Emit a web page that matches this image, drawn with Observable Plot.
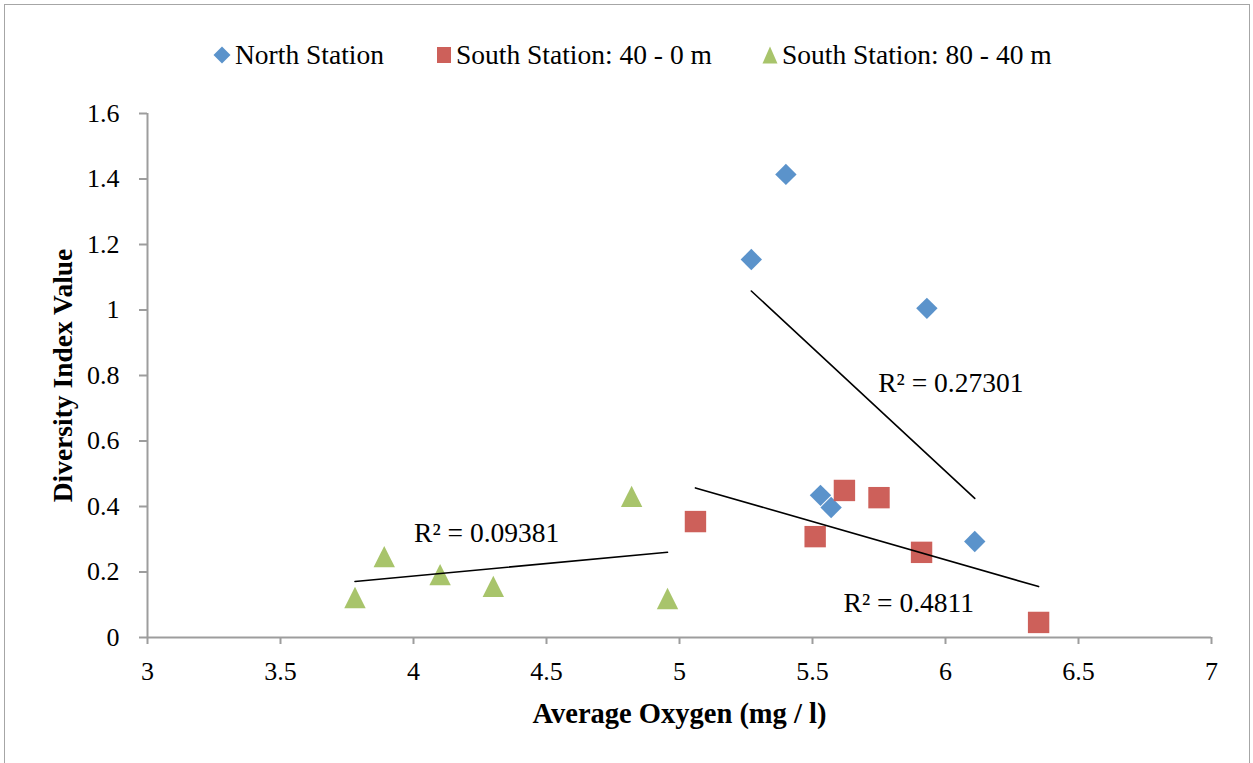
<!DOCTYPE html>
<html>
<head>
<meta charset="utf-8">
<script src="https://cdn.jsdelivr.net/npm/d3@7"></script>
<script src="https://cdn.jsdelivr.net/npm/@observablehq/plot@0.6"></script>
<style>
  html, body { margin: 0; padding: 0; background: #fff; }
  #wrap { position: relative; width: 1253px; height: 763px; overflow: hidden; font-family: "Liberation Serif", serif; }
  #frame { position: absolute; left: 4px; top: 4px; width: 1246px; height: 780px; border: 1.5px solid #a6a6a6; box-sizing: border-box; }
  #legend { position: absolute; left: 0; top: 0; width: 1253px; height: 88px; }
  .item { position: absolute; top: 41px; height: 27px; line-height: 27px; font-size: 27.5px; white-space: nowrap; display: flex; align-items: center; }
  .item svg { margin-right: 4px; }
  #chart { position: absolute; left: 0; top: 88px; }
</style>
</head>
<body>
<div id="wrap">
  <div id="frame"></div>
  <div id="legend"></div>
  <div id="chart"></div>
</div>
<script>
// ---- data ----
const seriesNames = ["North Station", "South Station: 40 - 0 m", "South Station: 80 - 40 m"];
const seriesColors = ["#5b93cb", "#cd605a", "#a8c46b"];

const northX = [5.27, 5.40, 5.93, 5.53, 5.57, 6.11];
const northY = [1.154, 1.414, 1.005, 0.434, 0.397, 0.293];

const south40X = [5.06, 5.51, 5.62, 5.75, 5.91, 6.35];
const south40Y = [0.354, 0.308, 0.449, 0.427, 0.260, 0.046];

const south80X = [3.78, 3.89, 4.10, 4.30, 4.82, 4.955];
const south80Y = [0.122, 0.247, 0.192, 0.156, 0.431, 0.119];

const xTicks = [3, 3.5, 4, 4.5, 5, 5.5, 6, 6.5, 7];
const yTicks = [0, 0.2, 0.4, 0.6, 0.8, 1, 1.2, 1.4, 1.6];

const r2Labels = ["R\u00B2 = 0.27301", "R\u00B2 = 0.09381", "R\u00B2 = 0.4811"];
const r2X = [6.02, 4.275, 5.862];
const r2Y = [0.776, 0.317, 0.104];

const xTitle = "Average Oxygen (mg / l)";
const yTitle = "Diversity Index Value";

// ---- symbols ----
const diamond = { draw(ctx, size) { const h = Math.sqrt(size / Math.PI); ctx.moveTo(0, -h); ctx.lineTo(h, 0); ctx.lineTo(0, h); ctx.lineTo(-h, 0); ctx.closePath(); } };
const square = { draw(ctx, size) { const h = Math.sqrt(size / Math.PI); ctx.rect(-h, -h, 2 * h, 2 * h); } };
const triangle = { draw(ctx, size) { const h = Math.sqrt(size / Math.PI); ctx.moveTo(0, -h); ctx.lineTo(h, h); ctx.lineTo(-h, h); ctx.closePath(); } };
const symbols = [diamond, square, triangle];

const toRows = (xs, ys) => xs.map((x, i) => ({ x, y: ys[i] }));
const series = [toRows(northX, northY), toRows(south40X, south40Y), toRows(south80X, south80Y)];
const labels = r2Labels.map((t, i) => ({ t, x: r2X[i], y: r2Y[i] }));

const axisColor = "#9d9d9d";
const R = 10.7;

const marks = [
  Plot.ruleY([0], { stroke: axisColor, strokeWidth: 2 }),
  Plot.ruleX([3], { stroke: axisColor, strokeWidth: 2 }),
  Plot.axisX({ ticks: xTicks, tickSize: 7, tickPadding: 17, stroke: axisColor, strokeWidth: 2, fill: "black", tickFormat: d => String(d), label: null, fontSize: 26 }),
  Plot.axisY({ ticks: yTicks, tickSize: 8, tickPadding: 20, stroke: axisColor, strokeWidth: 2, fill: "black", tickFormat: d => String(d), label: null, fontSize: 26 }),
  Plot.text([xTitle], { frameAnchor: "bottom", dy: 76, lineAnchor: "middle", textAnchor: "middle", fontWeight: "bold", fontSize: 28.5, fill: "black" }),
  Plot.text([yTitle], { frameAnchor: "left", dx: -84, rotate: -90, lineAnchor: "middle", textAnchor: "middle", fontWeight: "bold", fontSize: 27.5, fill: "black" })
];
series.forEach((rows, i) => {
  marks.push(Plot.dot(rows, { x: "x", y: "y", r: R, symbol: symbols[i], fill: seriesColors[i], stroke: "none" }));
});
series.forEach((rows) => {
  marks.push(Plot.linearRegressionY(rows, { x: "x", y: "y", stroke: "black", strokeWidth: 1.6, ci: 0 }));
});
marks.push(Plot.text(labels, { x: "x", y: "y", text: "t", fontSize: 27.5, fill: "black" }));

const chart = Plot.plot({
  width: 1253,
  height: 675,
  marginTop: 25,
  marginBottom: 126,
  marginLeft: 147,
  marginRight: 42,
  x: { domain: [3, 7] },
  y: { domain: [0, 1.6] },
  style: { fontFamily: "Liberation Serif", fontSize: "26px", color: "black", background: "transparent", overflow: "visible" },
  marks
});
document.getElementById("chart").appendChild(chart);

// ---- legend ----
const legendLeft = [213, 436, 762];
const legendSym = [
  (c) => `<svg width="18" height="18" viewBox="0 0 18 18"><path d="M9 0.5L17.5 9L9 17.5L0.5 9Z" fill="${c}"/></svg>`,
  (c) => `<svg width="16" height="18" viewBox="0 0 16 18"><rect x="1" y="1" width="14" height="16" fill="${c}"/></svg>`,
  (c) => `<svg width="16" height="18" viewBox="0 0 16 18"><path d="M8 0.5L15.5 17.5L0.5 17.5Z" fill="${c}"/></svg>`
];
const legend = document.getElementById("legend");
seriesNames.forEach((name, i) => {
  const d = document.createElement("div");
  d.className = "item";
  d.style.left = legendLeft[i] + "px";
  d.innerHTML = legendSym[i](seriesColors[i]) + `<span>${name}</span>`;
  legend.appendChild(d);
});
</script>
</body>
</html>
